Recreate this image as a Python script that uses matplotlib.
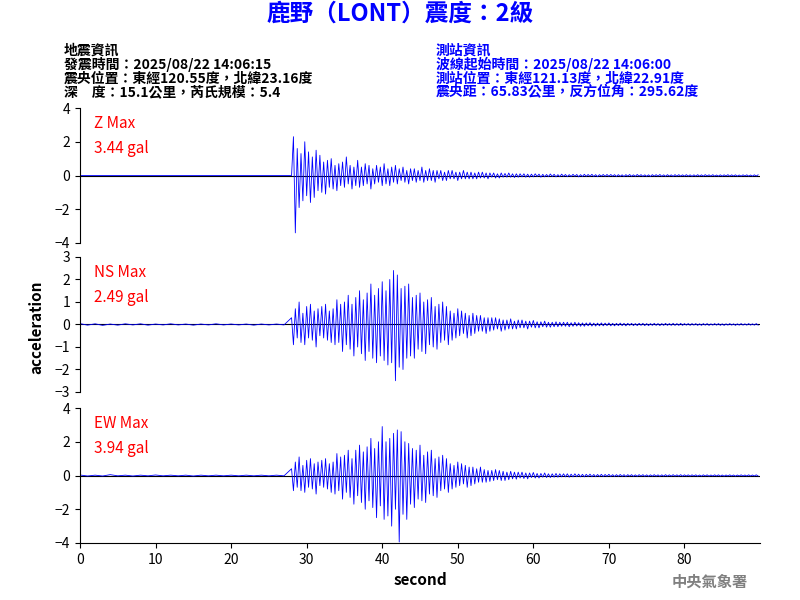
import numpy as np
import matplotlib.pyplot as plt

plt.rcParams['font.family'] = ['Noto Sans CJK TC', 'DejaVu Sans']

# samples every 0.25 s from 28 s onward
t0 = 28.0
dt = 0.25

z_vals = [
    0.0, 2.3, -3.4, 1.6, -1.9, 1.3, -1.5, 2.0, -1.2, 1.4, -1.6, 1.1, -1.3, 1.5, -0.9, 1.2,
    -1.0, 0.8, -1.1, 0.9, -0.7, 1.0, -0.8, 0.6, -0.9, 0.7, -0.6, 0.8, -0.7, 1.1, -0.5, 0.6,
    -0.8, 0.5, -0.6, 0.9, -0.7, 0.5, -0.6, 0.7, -0.5, 0.6, -0.8, 0.4, -0.5, 0.6, -0.4, 0.5,
    -0.6, 0.7, -0.5, 0.4, -0.6, 0.5, -0.4, 0.6, -0.5, 0.4, -0.3, 0.5, -0.4, 0.3, -0.5, 0.4,
    -0.3, 0.4, -0.4, 0.3, -0.3, 0.5, -0.4, 0.3, -0.3, 0.4, -0.3, 0.3, -0.4, 0.3, -0.2, 0.3,
    -0.3, 0.2, -0.3, 0.3, -0.2, 0.3, -0.2, 0.2,
    -0.3, 0.2, -0.2, 0.3, -0.2, 0.2, -0.2, 0.2, -0.2, 0.15, -0.2, 0.2, -0.15, 0.2, -0.15, 0.15,
    -0.2, 0.15, -0.1, 0.15, -0.15, 0.1, -0.15, 0.15, -0.1, 0.12, -0.1, 0.15, -0.1, 0.1, -0.12, 0.1,
    -0.1, 0.1, -0.08, 0.1, -0.1, 0.08, -0.1, 0.08,
    -0.08, 0.1, -0.06, 0.08, -0.1, 0.07, -0.08, 0.06, -0.07, 0.09, -0.06, 0.07, -0.08, 0.05, -0.07, 0.08, -0.05, 0.06, -0.07, 0.05,
    -0.06, 0.07, -0.05, 0.06, -0.08, 0.05, -0.06, 0.07, -0.05, 0.06, -0.05, 0.07, -0.06, 0.05, -0.07, 0.05, -0.04, 0.06, -0.05, 0.06,
    -0.05, 0.06, -0.04, 0.05, -0.06, 0.05, -0.05, 0.04, -0.06, 0.05, -0.04, 0.06, -0.05, 0.04, -0.05, 0.06, -0.04, 0.05, -0.05, 0.04,
    -0.05, 0.04, -0.06, 0.05, -0.04, 0.05, -0.04, 0.06, -0.05, 0.04, -0.05, 0.05, -0.04, 0.04, -0.05, 0.05, -0.04, 0.05, -0.04, 0.04,
    -0.04, 0.05, -0.04, 0.04, -0.05, 0.04, -0.04, 0.05, -0.04, 0.04, -0.04, 0.05, -0.03, 0.04, -0.04, 0.05, -0.04, 0.03, -0.04, 0.04,
    -0.04, 0.04, -0.03, 0.05, -0.04, 0.04, -0.03, 0.04, -0.04, 0.03, -0.04, 0.04, -0.03, 0.04, -0.04, 0.03, -0.04, 0.04, -0.03, 0.04,
]

ns_vals = [
    0.3, -0.9, 0.7, -0.6, 1.0, -0.8, 0.5, -0.9, 0.8, -0.6, 0.9, -0.7, 0.6, -1.0, 0.7, -0.5,
    0.8, -0.6, 0.9, -0.7, 0.6, -0.8, 0.7, -0.9, 1.1, -0.8, 0.9, -1.2, 1.0, -0.9, 1.3, -1.1,
    0.9, -1.4, 1.2, -1.0, 1.5, -1.3, 1.1, -1.6, 1.4, -1.2, 1.8, -1.5, 1.3, -1.7, 1.6, -1.4,
    1.9, -1.6, 1.5, -1.8, 2.0, -1.7, 2.4, -2.5, 2.2, -1.9, 1.6, -2.0, 1.7, -1.5, 1.8, -1.4,
    1.2, -1.5, 1.3, -1.1, 1.4, -1.2, 1.0, -1.3, 1.1, -0.9, 1.2, -1.0, 0.8, -1.1, 0.9, -0.8,
    1.0, -0.7, 0.8, -0.9,
    0.6, -0.7, 0.5, -0.6, 0.7, -0.5, 0.6, -0.4, 0.5, -0.6, 0.4, -0.5, 0.5, -0.4, 0.4, -0.3,
    0.4, -0.3, 0.3, -0.4, 0.3, -0.3, 0.3, -0.25, 0.3, -0.2, 0.25, -0.3, 0.2, -0.25, 0.2, -0.2,
    0.25, -0.2, 0.15, -0.2, 0.2, -0.15, 0.2, -0.15,
    0.15, -0.2, 0.15, -0.12, 0.18, -0.15, 0.12, -0.15, 0.12, -0.1, 0.15, -0.12, 0.1, -0.12, 0.1, -0.1, 0.12, -0.1, 0.1, -0.08,
    0.1, -0.08, 0.1, -0.1, 0.08, -0.08, 0.1, -0.07, 0.08, -0.08, 0.07, -0.08, 0.07, -0.06, 0.08, -0.07, 0.06, -0.07, 0.06, -0.06,
    0.07, -0.06, 0.06, -0.05, 0.07, -0.06, 0.05, -0.06, 0.05, -0.05, 0.06, -0.05, 0.05, -0.06, 0.05, -0.04, 0.05, -0.05, 0.04, -0.05,
    0.05, -0.04, 0.05, -0.05, 0.04, -0.05, 0.04, -0.04, 0.05, -0.04, 0.04, -0.05, 0.04, -0.04, 0.05, -0.04, 0.04, -0.04, 0.05, -0.04,
    0.04, -0.04, 0.05, -0.04, 0.04, -0.03, 0.04, -0.04, 0.04, -0.03, 0.04, -0.04, 0.03, -0.04, 0.04, -0.03, 0.04, -0.04, 0.03, -0.03,
    0.04, -0.03, 0.04, -0.04, 0.03, -0.04, 0.03, -0.03, 0.04, -0.03, 0.03, -0.04, 0.03, -0.03, 0.04, -0.03, 0.03, -0.03, 0.04, -0.03,
    0.03, -0.03, 0.04, -0.03,
]

ew_vals = [
    0.4, -0.9, 0.8, -0.7, 1.1, -0.9, 0.6, -1.0, 0.9, -0.7, 1.0, -0.8, 0.7, -1.1, 0.8, -0.6,
    0.9, -0.7, 1.0, -0.8, 0.7, -1.0, 0.8, -1.1, 1.3, -0.9, 1.1, -1.4, 1.2, -1.0, 1.5, -1.3,
    1.0, -1.7, 1.5, -1.2, 1.8, -1.6, 1.4, -2.0, 1.7, -1.5, 2.2, -1.9, 1.6, -2.5, 2.0, -1.8,
    2.9, -2.6, 2.0, -2.4, 2.2, -3.0, 2.5, -2.0, 2.7, -3.94, 2.6, -2.3, 2.0, -2.6, 1.9, -1.7,
    1.6, -1.9, 1.5, -1.4, 1.8, -1.5, 1.2, -1.6, 1.4, -1.1, 1.5, -1.2, 1.0, -1.3, 1.1, -0.9,
    1.2, -0.8, 1.0, -1.0,
    0.7, -0.8, 0.6, -0.7, 0.8, -0.6, 0.7, -0.5, 0.6, -0.7, 0.5, -0.6, 0.5, -0.5, 0.4, -0.4,
    0.5, -0.4, 0.35, -0.4, 0.3, -0.35, 0.3, -0.3, 0.35, -0.25, 0.3, -0.3, 0.25, -0.3, 0.2, -0.25,
    0.25, -0.2, 0.2, -0.22, 0.2, -0.15, 0.2, -0.18,
    0.15, -0.2, 0.15, -0.12, 0.18, -0.15, 0.12, -0.15, 0.12, -0.1, 0.15, -0.12, 0.1, -0.12, 0.1, -0.1, 0.12, -0.1, 0.1, -0.08,
    0.1, -0.08, 0.1, -0.1, 0.08, -0.08, 0.1, -0.07, 0.08, -0.08, 0.07, -0.08, 0.07, -0.06, 0.08, -0.07, 0.06, -0.07, 0.06, -0.06,
    0.07, -0.06, 0.06, -0.05, 0.07, -0.06, 0.05, -0.06, 0.05, -0.05, 0.06, -0.05, 0.05, -0.06, 0.05, -0.04, 0.05, -0.05, 0.04, -0.05,
    0.05, -0.04, 0.05, -0.05, 0.04, -0.05, 0.04, -0.04, 0.05, -0.04, 0.04, -0.05, 0.04, -0.04, 0.05, -0.04, 0.04, -0.04, 0.05, -0.04,
    0.04, -0.04, 0.05, -0.04, 0.04, -0.03, 0.04, -0.04, 0.04, -0.03, 0.04, -0.04, 0.03, -0.04, 0.04, -0.03, 0.04, -0.04, 0.03, -0.03,
    0.04, -0.03, 0.04, -0.04, 0.03, -0.04, 0.03, -0.03, 0.04, -0.03, 0.03, -0.04, 0.03, -0.03, 0.04, -0.03, 0.03, -0.03, 0.04, -0.03,
    0.03, -0.03, 0.04, -0.03,
]

# pre-event noise, one value per second from 0 to 27 s
ns_pre = [0.04, -0.03, 0.03, -0.04, 0.02, -0.03, 0.03, -0.02, 0.03, -0.03, 0.02, -0.02, 0.03, -0.02,
          0.02, -0.03, 0.02, -0.02, 0.03, -0.02, 0.02, -0.02, 0.02, -0.03, 0.02, -0.02, 0.02, -0.02]
ew_pre = [0.03, -0.03, 0.02, -0.03, 0.05, -0.02, 0.02, -0.03, 0.02, -0.02, 0.03, -0.02, 0.02, -0.02,
          0.02, -0.03, 0.02, -0.02, 0.02, -0.02, 0.02, -0.02, 0.02, -0.02, 0.02, -0.02, 0.02, -0.02]
z_pre = [0.0] * 28

names = ["Z Max", "NS Max", "EW Max"]
peaks = ["3.44 gal", "2.49 gal", "3.94 gal"]
ylims = [(-4, 4), (-3, 3), (-4, 4)]
yticks = [[-4, -2, 0, 2, 4], [-3, -2, -1, 0, 1, 2, 3], [-4, -2, 0, 2, 4]]

fig = plt.figure(figsize=(8, 6), dpi=100)
bottoms = [0.595, 0.3467, 0.095]
for k, (pre, vals) in enumerate([(z_pre, z_vals), (ns_pre, ns_vals), (ew_pre, ew_vals)]):
    ax = fig.add_axes([0.1, bottoms[k], 0.85, 0.225])
    t = np.concatenate([np.arange(len(pre)), t0 + dt * np.arange(len(vals))])
    ax.axhline(0, color='black', lw=0.8)
    ax.plot(t, np.concatenate([pre, vals]), color='blue', lw=0.6)
    ax.set_xlim(0, 90)
    ax.set_ylim(*ylims[k])
    ax.set_yticks(yticks[k])
    ax.spines['top'].set_visible(False)
    ax.spines['right'].set_visible(False)
    if k < 2:
        ax.spines['bottom'].set_visible(False)
        ax.set_xticks([])
    else:
        ax.set_xticks(range(0, 90, 10))
        ax.set_xlabel("second", fontsize=11, fontweight='bold')
    ax.tick_params(labelsize=10)
    ax.text(0.02, 0.95, names[k] + "\n" + peaks[k], transform=ax.transAxes, color='red',
            fontsize=11, va='top', linespacing=1.6)

fig.text(0.035, 0.455, "acceleration", rotation=90, fontsize=11, fontweight='bold', va='center')

fig.text(0.5, 0.965, "鹿野（LONT）震度：2級", color='blue', fontsize=17, fontweight='bold', ha='center')
fig.text(0.08, 0.84, "地震資訊\n發震時間：2025/08/22 14:06:15\n震央位置：東經120.55度，北緯23.16度\n深　度：15.1公里，芮氏規模：5.4",
         fontsize=10, linespacing=0.95, color='black', fontweight='bold')
fig.text(0.545, 0.84, "測站資訊\n波線起始時間：2025/08/22 14:06:00\n測站位置：東經121.13度，北緯22.91度\n震央距：65.83公里，反方位角：295.62度",
         fontsize=10, linespacing=0.95, color='blue', fontweight='bold')
fig.text(0.935, 0.022, "中央氣象署", color='gray', fontsize=11, fontweight='bold', ha='right')

fig.savefig("out.png", dpi=100)
